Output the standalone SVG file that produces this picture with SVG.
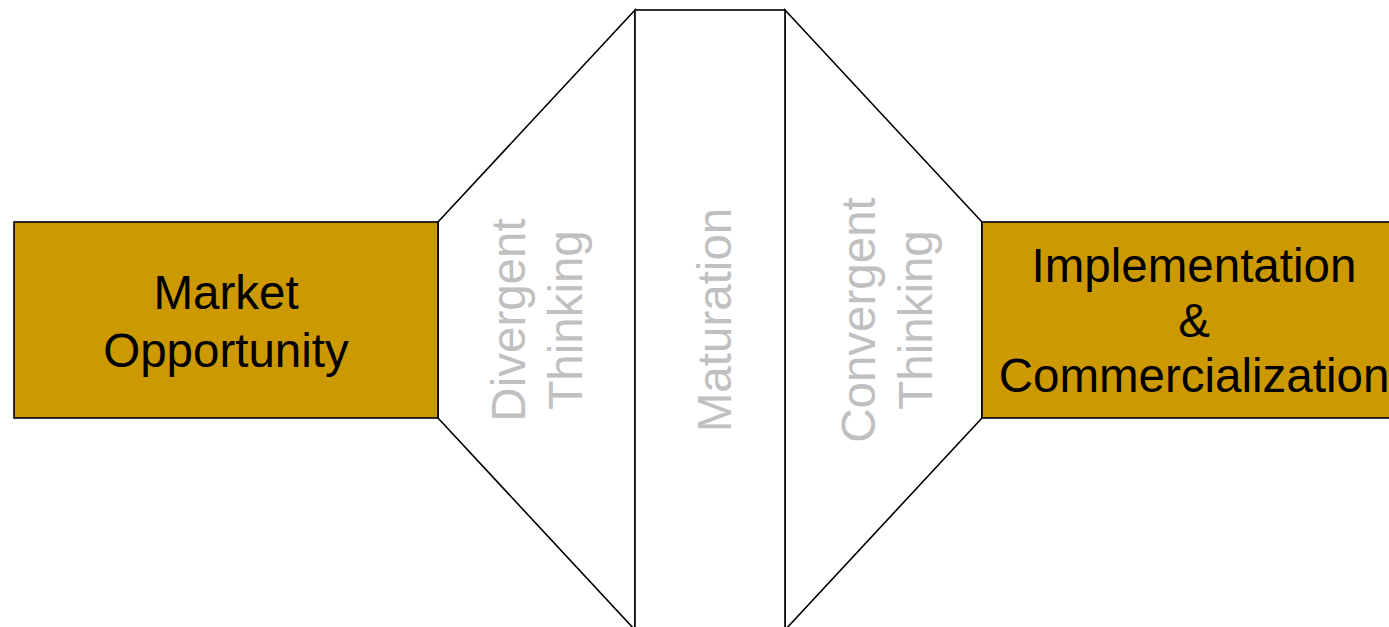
<svg xmlns="http://www.w3.org/2000/svg" width="1389" height="627" viewBox="0 0 1389 627">
  <style>
    .box { fill: #CC9900; stroke: #000; stroke-width: 1.6; }
    .stage { fill: #FFFFFF; stroke: #000; stroke-width: 1.6; stroke-linejoin: miter; }
    .lbl { font-family: "Liberation Sans", Arial, sans-serif; font-size: 47.5px; fill: #000; text-anchor: middle; }
    .vlbl { font-family: "Liberation Sans", Arial, sans-serif; font-size: 47.5px; fill: #C0C0C0; text-anchor: middle; }
  </style>
  <rect width="1389" height="627" fill="#FFFFFF"/>

  <g id="divergent">
    <polygon class="stage" points="438,222 635,10 635,630 438,418"/>
    <text class="vlbl" transform="translate(525,320) rotate(-90)">Divergent</text>
    <text class="vlbl" transform="translate(582,320) rotate(-90)">Thinking</text>
  </g>

  <g id="convergent">
    <polygon class="stage" points="785,10 982,222 982,418 785,630"/>
    <text class="vlbl" transform="translate(875,320) rotate(-90)">Convergent</text>
    <text class="vlbl" transform="translate(932,320) rotate(-90)">Thinking</text>
  </g>

  <g id="maturation">
    <rect class="stage" x="635" y="10" width="150" height="630"/>
    <text class="vlbl" transform="translate(731,320) rotate(-90)">Maturation</text>
  </g>

  <g id="market-opportunity">
    <rect class="box" x="14" y="222" width="424" height="196"/>
    <text class="lbl" x="226" y="309">Market</text>
    <text class="lbl" x="226" y="367">Opportunity</text>
  </g>

  <g id="implementation">
    <rect class="box" x="982" y="222" width="424" height="196"/>
    <text class="lbl" x="1194" y="282">Implementation</text>
    <text class="lbl" x="1194" y="337">&amp;</text>
    <text class="lbl" x="1194" y="392">Commercialization</text>
  </g>

  <g id="connectors"></g>
</svg>
